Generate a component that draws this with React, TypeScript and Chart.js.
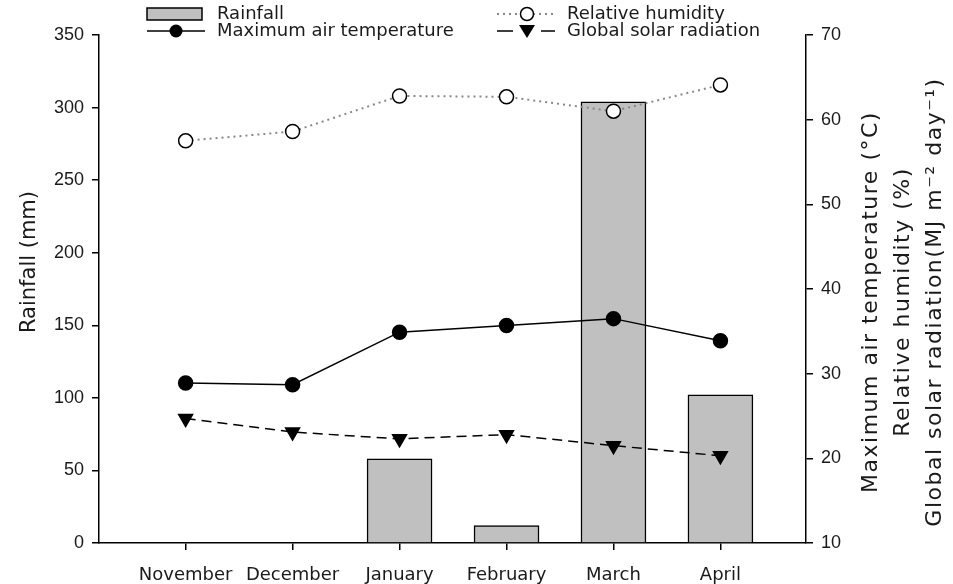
import React, { useEffect, useRef } from "react";
import { Chart, registerables } from "chart.js";

Chart.register(...registerables);

const months = ["November", "December", "January", "February", "March", "April"];
const rainfall = [0, 0, 58, 12, 304, 102];
const maxTemp = [28.9, 28.7, 34.9, 35.7, 36.5, 33.9];
const humidity = [57.5, 58.6, 62.8, 62.7, 61.0, 64.1];
const solar = [24.7, 23.1, 22.3, 22.8, 21.5, 20.3];

const leftTitle = "Rainfall (mm)";
const rightTitles = [
  "Maximum air temperature (°C)",
  "Relative humidity (%)",
  "Global solar radiation(MJ m⁻² day⁻¹)",
];
const legendNames = ["Rainfall", "Maximum air temperature", "Relative humidity", "Global solar radiation"];

const LABEL_FONT = '"DejaVu Sans", sans-serif';
const TICK_FONT = '"Liberation Sans", Arial, sans-serif';

const overlay = {
  id: "overlay",
  afterDraw(chart: any) {
    const ctx = chart.ctx as CanvasRenderingContext2D;
    ctx.save();
    ctx.fillStyle = "#1a1a1a";
    ctx.textAlign = "center";
    ctx.textBaseline = "middle";
    // left title
    ctx.font = `21px ${LABEL_FONT}`;
    ctx.save();
    ctx.translate(30, 262);
    ctx.rotate(-Math.PI / 2);
    ctx.fillText(leftTitle, 0, 0);
    ctx.restore();
    // right titles
    ctx.font = `22px ${LABEL_FONT}`;
    const xs = [871, 903, 935];
    rightTitles.forEach((t, i) => {
      ctx.save();
      (ctx as any).letterSpacing = "1.5px";
      ctx.translate(xs[i], 302);
      ctx.rotate(-Math.PI / 2);
      ctx.fillText(t, 0, 0);
      ctx.restore();
    });

    // legend
    ctx.textAlign = "left";
    ctx.font = `18px ${LABEL_FONT}`;
    const row1 = 14, row2 = 31;
    const c1 = 147, c2 = 497, sw = 58, tx1 = 217, tx2 = 567;
    // Rainfall box
    ctx.fillStyle = "#c0c0c0";
    ctx.strokeStyle = "#000";
    ctx.lineWidth = 1.5;
    ctx.fillRect(c1, row1 - 6, 55, 12);
    ctx.strokeRect(c1, row1 - 6, 55, 12);
    ctx.fillStyle = "#1a1a1a";
    ctx.fillText(legendNames[0], tx1, row1);
    // Max temp
    ctx.beginPath();
    ctx.moveTo(c1, row2);
    ctx.lineTo(c1 + sw, row2);
    ctx.stroke();
    ctx.beginPath();
    ctx.arc(c1 + 29, row2, 6.5, 0, Math.PI * 2);
    ctx.fillStyle = "#000";
    ctx.fill();
    ctx.fillStyle = "#1a1a1a";
    ctx.fillText(legendNames[1], tx1, row2);
    // Humidity
    ctx.save();
    ctx.strokeStyle = "#888";
    ctx.lineWidth = 2;
    ctx.setLineDash([2, 4]);
    ctx.beginPath();
    ctx.moveTo(c2, row1);
    ctx.lineTo(c2 + sw, row1);
    ctx.stroke();
    ctx.restore();
    ctx.beginPath();
    ctx.arc(c2 + 30, row1, 6.5, 0, Math.PI * 2);
    ctx.fillStyle = "#fff";
    ctx.fill();
    ctx.strokeStyle = "#000";
    ctx.lineWidth = 1.5;
    ctx.stroke();
    ctx.fillStyle = "#1a1a1a";
    ctx.fillText(legendNames[2], tx2, row1);
    // Solar
    ctx.beginPath();
    ctx.moveTo(c2, row2);
    ctx.lineTo(c2 + 16, row2);
    ctx.moveTo(c2 + 44, row2);
    ctx.lineTo(c2 + sw, row2);
    ctx.stroke();
    ctx.beginPath();
    ctx.moveTo(c2 + 22, row2 - 6);
    ctx.lineTo(c2 + 38, row2 - 6);
    ctx.lineTo(c2 + 30, row2 + 7);
    ctx.closePath();
    ctx.fillStyle = "#000";
    ctx.fill();
    ctx.fillStyle = "#1a1a1a";
    ctx.fillText(legendNames[3], tx2, row2);
    ctx.restore();
  },
};

export default function App() {
  const ref = useRef<HTMLCanvasElement | null>(null);
  useEffect(() => {
    if (!ref.current) return;
    const toXY = (arr: number[]) => arr.map((v, i) => ({ x: i, y: v }));
    const axisGrid = { display: true, drawOnChartArea: false, drawTicks: true, tickLength: 7, color: "#000", lineWidth: 1.5, offset: false };
    const axisBorder = { display: true, color: "#000", width: 1.5 };
    const chart = new Chart(ref.current, {
      type: "bar",
      data: {
        datasets: [
          {
            type: "bar",
            label: legendNames[0],
            data: toXY(rainfall),
            backgroundColor: "#c0c0c0",
            borderColor: "#000",
            borderWidth: 1.5,
            borderSkipped: "start",
            barThickness: 65,
            yAxisID: "y",
            order: 2,
          } as any,
          {
            type: "line",
            label: legendNames[1],
            data: toXY(maxTemp),
            borderColor: "#000",
            borderWidth: 1.5,
            pointRadius: 7,
            pointBackgroundColor: "#000",
            pointBorderColor: "#000",
            yAxisID: "y1",
            order: 0,
          },
          {
            type: "line",
            label: legendNames[2],
            data: toXY(humidity),
            borderColor: "#888",
            borderWidth: 2,
            borderDash: [2, 4],
            pointRadius: 7,
            pointBorderWidth: 1.5,
            pointBackgroundColor: "#fff",
            pointBorderColor: "#000",
            yAxisID: "y1",
            order: 0,
          },
          {
            type: "line",
            label: legendNames[3],
            data: toXY(solar),
            borderColor: "#000",
            borderWidth: 1.5,
            borderDash: [10, 6],
            pointStyle: "triangle",
            rotation: 180,
            pointRadius: 8,
            pointBackgroundColor: "#000",
            pointBorderColor: "#000",
            yAxisID: "y1",
            order: 0,
          },
        ],
      },
      options: {
        responsive: false,
        animation: false,
        events: [],
        layout: { padding: { top: 35, left: 0, right: 0, bottom: 0 } },
        plugins: { legend: { display: false }, tooltip: { enabled: false } },
        scales: {
          x: {
            type: "linear",
            offset: false,
            min: -0.81,
            max: 5.8,
            afterBuildTicks: (scale: any) => {
              scale.ticks = months.map((_, i) => ({ value: i }));
            },
            afterFit: (scale: any) => {
              scale.height = 41;
            },
            ticks: {
              callback: (v: any) => months[v] ?? "",
              font: { family: LABEL_FONT, size: 18 },
              color: "#1a1a1a",
              padding: 15,
              maxRotation: 0,
              autoSkip: false,
            },
            grid: axisGrid,
            border: axisBorder,
          },
          y: {
            position: "left",
            min: 0,
            max: 350,
            afterFit: (scale: any) => {
              scale.width = 99;
            },
            ticks: { stepSize: 50, font: { family: TICK_FONT, size: 18 }, color: "#1a1a1a", padding: 8 },
            grid: axisGrid,
            border: axisBorder,
          },
          y1: {
            position: "right",
            min: 10,
            max: 70,
            afterFit: (scale: any) => {
              scale.width = 147;
            },
            ticks: { stepSize: 10, font: { family: TICK_FONT, size: 18 }, color: "#1a1a1a", padding: 8 },
            grid: axisGrid,
            border: axisBorder,
          },
        },
      } as any,
      plugins: [overlay],
    });
    return () => chart.destroy();
  }, []);
  return (
    <div style={{ position: "fixed", left: 0, top: 0, width: 953, height: 584, background: "#fff" }}>
      <canvas ref={ref} width={953} height={584} style={{ width: 953, height: 584, display: "block" }} />
    </div>
  );
}
